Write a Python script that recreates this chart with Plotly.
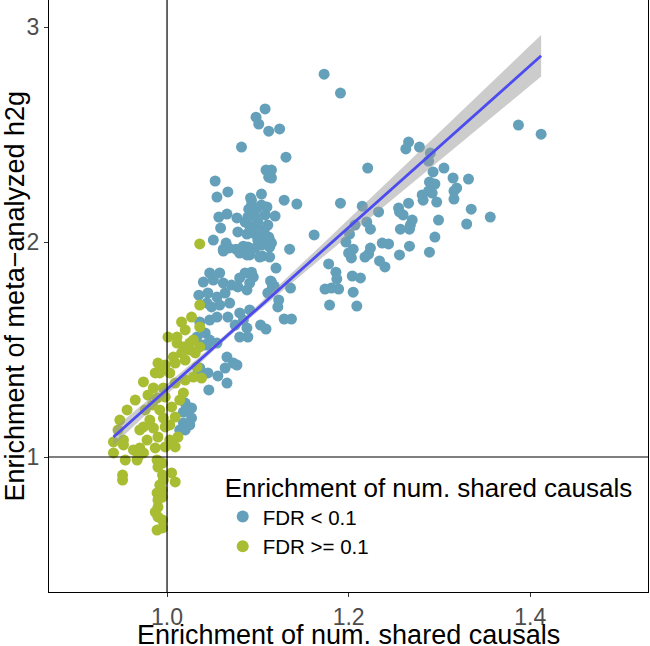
import numpy as np
import plotly.graph_objects as go

# ---------------- data ----------------
sig_x = [1.173, 1.191, 1.108, 1.098, 1.101, 1.112, 1.124, 1.082, 1.131, 1.109, 1.115, 1.112, 1.115,
         1.221, 1.266, 1.263, 1.278, 1.290, 1.288, 1.305, 1.293, 1.315, 1.332, 1.289, 1.295, 1.319,
         1.316, 1.288, 1.292, 1.281, 1.282, 1.297, 1.316, 1.387, 1.412, 1.104, 1.129, 1.143, 1.191,
         1.215, 1.233, 1.255, 1.256, 1.266, 1.260, 1.270, 1.268, 1.257, 1.267, 1.299, 1.335, 1.356,
         1.330, 1.295, 1.267, 1.256, 1.289, 1.119, 1.162, 1.135, 1.207, 1.201, 1.220, 1.224, 1.197,
         1.205, 1.200, 1.203, 1.224, 1.222, 1.218, 1.237, 1.244, 1.234, 1.240, 1.178, 1.186, 1.187,
         1.174, 1.189, 1.181, 1.204, 1.213, 1.205, 1.179, 1.209, 1.120, 1.114, 1.118, 1.136, 1.123,
         1.122, 1.129, 1.137, 1.103, 1.109, 1.053, 1.067, 1.055, 1.092, 1.110, 1.093, 1.099, 1.090,
         1.057, 1.066, 1.077, 1.059, 1.089, 1.097, 1.086, 1.100, 1.091, 1.098, 1.078, 1.088, 1.097,
         1.104, 1.112, 1.051, 1.065, 1.062, 1.068, 1.076, 1.084, 1.089, 1.097, 1.104, 1.113, 1.115,
         1.080, 1.088, 1.105, 1.093, 1.104, 1.108, 1.111, 1.107, 1.113, 1.100, 1.091,
         1.062, 1.091, 1.102, 1.113,
         1.047, 1.058, 1.040, 1.051, 1.062, 1.086, 1.093, 1.095, 1.080, 1.091, 1.071, 1.078, 1.088,
         1.115, 1.116, 1.111,
         1.035, 1.045, 1.055, 1.064, 1.069, 1.058, 1.049, 1.044, 1.080, 1.091, 1.084, 1.067, 1.055,
         1.047, 1.075, 1.088, 1.089, 1.080,
         1.042, 1.047, 1.040, 1.055, 1.036,
         1.066, 1.073, 1.064, 1.077,
         1.056, 1.066, 1.045, 1.034, 1.046, 1.036,
         1.023, 1.027, 1.018, 1.025, 1.014, 1.018, 1.020, 1.027, 1.020,
         1.033, 1.044]
sig_y = [2.781, 2.693, 2.619, 2.581, 2.549, 2.516, 2.526, 2.442, 2.395, 2.335, 2.335, 2.302, 2.298,
         2.344, 2.465, 2.433, 2.442, 2.414, 2.377, 2.344, 2.326, 2.298, 2.293, 2.279, 2.270, 2.251,
         2.237, 2.237, 2.228, 2.219, 2.195, 2.186, 2.200, 2.544, 2.502, 2.223, 2.195, 2.177, 2.181,
         2.167, 2.140, 2.158, 2.140, 2.181, 2.126, 2.102, 2.079, 2.060, 2.060, 2.102, 2.153, 2.116,
         2.084, 2.023, 1.981, 1.940, 1.953, 2.121, 2.033, 1.967, 2.079, 2.037, 2.093, 2.060, 2.000,
         1.967, 1.949, 1.926, 1.972, 1.944, 1.930, 1.995, 1.991, 1.912, 1.884, 1.898, 1.860, 1.828,
         1.781, 1.781, 1.786, 1.842, 1.833, 1.767, 1.707, 1.702, 1.879, 1.819, 1.795, 1.786, 1.730,
         1.698, 1.642, 1.642, 1.614, 1.595, 2.284, 2.233, 2.209, 2.205, 2.163, 2.172, 2.158, 2.153,
         2.116, 2.130, 2.112, 2.065, 2.116, 2.121, 2.093, 2.093, 2.074, 2.079, 2.047, 2.037, 2.037,
         2.028, 2.023, 2.009, 1.995, 1.967, 1.972, 1.967, 1.981, 1.977, 1.972, 1.986, 1.977, 1.995,
         1.949, 1.940, 1.935, 2.195, 2.172, 2.126, 2.079, 2.056, 2.009, 2.009, 1.963,
         1.958, 1.940, 1.930, 1.930,
         1.856, 1.856, 1.814, 1.823, 1.809, 1.856, 1.860, 1.837, 1.833, 1.809, 1.800, 1.791, 1.777,
         1.814, 1.791, 1.763,
         1.753, 1.763, 1.744, 1.763, 1.716, 1.707, 1.698, 1.716, 1.670, 1.684, 1.637, 1.651, 1.651,
         1.637, 1.614, 1.600, 1.558, 1.558,
         1.577, 1.544, 1.521, 1.530, 1.628,
         1.465, 1.437, 1.414, 1.428,
         1.377, 1.344, 1.391, 1.391, 1.312, 1.414,
         1.219, 1.181, 1.158, 1.149, 1.126, 1.209, 1.251, 1.228, 1.126,
         1.558, 1.521]

nonsig_x = [1.036, 1.016, 1.027, 1.036, 1.020, 1.001, 1.011, 1.011, 1.018, 1.025, 1.036, 1.031, 1.016,
            1.020, 1.009, 0.998, 0.990, 0.987, 0.974, 0.992, 1.003, 1.009, 0.996, 0.985, 0.979, 0.989,
            0.998, 0.984, 0.976, 0.992, 1.005, 1.009, 0.996, 0.981, 0.974, 0.985, 0.998, 0.978, 0.990,
            1.003, 1.012, 1.009, 0.998, 0.987, 0.970, 0.963, 0.974, 0.941, 0.952, 0.956, 0.948, 0.946,
            0.952, 0.941, 0.954, 0.967, 0.968, 1.029, 1.025, 1.007, 1.033, 1.029, 1.038, 1.018,
            0.951, 0.951,
            0.989, 0.995, 0.990, 0.995, 0.996, 1.005, 1.009, 0.992, 0.995, 0.989, 0.990, 0.995, 0.990,
            0.987, 0.990, 0.995, 0.989, 0.995,
            0.965, 0.970, 1.020, 1.014, 1.003, 1.036]
nonsig_y = [1.991, 1.628, 1.651, 1.605, 1.591, 1.558, 1.558, 1.530, 1.512, 1.530, 1.512, 1.484, 1.484,
            1.451, 1.437, 1.428, 1.437, 1.391, 1.349, 1.391, 1.391, 1.344, 1.321, 1.321, 1.288, 1.274,
            1.279, 1.242, 1.219, 1.219, 1.233, 1.186, 1.181, 1.172, 1.140, 1.135, 1.140, 1.079, 1.093,
            1.079, 1.093, 1.047, 1.047, 1.042, 1.042, 1.033, 1.019, 1.019, 1.056, 1.219, 1.172, 1.126,
            1.079, 1.070, 0.986, 0.986, 1.000, 1.544, 1.498, 1.465, 1.419, 1.372, 1.367, 1.298,
            0.916, 0.893,
            0.986, 0.972, 0.953, 0.916, 0.893, 0.926, 0.884, 0.870, 0.847, 0.833, 0.800, 0.814, 0.767,
            0.744, 0.721, 0.707, 0.660, 0.670,
            1.265, 1.126, 1.358, 1.265, 1.149, 1.707]

# linear fit (geom_smooth, method = lm)
fit_slope = 3.766
fit_intercept = -2.451
ci_center_x = 1.07
ci_min_halfwidth = 0.012
ci_spread = 0.281

x_ticks = [1.0, 1.2, 1.4]
x_tick_labels = ["1.0", "1.2", "1.4"]
y_ticks = [1, 2, 3]
y_tick_labels = ["1", "2", "3"]

x_title = "Enrichment of num. shared causals"
y_title = "Enrichment of meta\u2212analyzed h2g"
legend_title = "Enrichment of num. shared causals"
labels = ["FDR < 0.1", "FDR >= 0.1"]
colors = ["#64A0BA", "#A8BD32"]

# ---------------- figure ----------------
FONT = "Liberation Sans, Arial, Helvetica, sans-serif"
fig = go.Figure()

fig.add_trace(go.Scatter(x=sig_x, y=sig_y, mode="markers", name=labels[0],
                         marker=dict(color=colors[0], size=11, line=dict(width=0))))
fig.add_trace(go.Scatter(x=nonsig_x, y=nonsig_y, mode="markers", name=labels[1],
                         marker=dict(color=colors[1], size=11, line=dict(width=0))))

all_x = np.array(sig_x + nonsig_x)
xs = np.linspace(all_x.min(), all_x.max(), 100)
ys = fit_intercept + fit_slope * xs
hw = np.sqrt(ci_min_halfwidth ** 2 + (ci_spread * (xs - ci_center_x)) ** 2)

fig.add_trace(go.Scatter(x=xs, y=ys - hw, mode="lines", line=dict(width=0),
                         showlegend=False, hoverinfo="skip"))
fig.add_trace(go.Scatter(x=xs, y=ys + hw, mode="lines", line=dict(width=0),
                         fill="tonexty", fillcolor="rgba(153,153,153,0.5)",
                         showlegend=False, hoverinfo="skip"))
fig.add_trace(go.Scatter(x=xs, y=ys, mode="lines", line=dict(color="#4B4BF0", width=2.8),
                         showlegend=False, hoverinfo="skip"))

fig.add_shape(type="line", xref="x", yref="paper", x0=1, x1=1, y0=0, y1=1,
              line=dict(color="black", width=1.2), layer="above")
fig.add_shape(type="line", xref="paper", yref="y", x0=0, x1=1, y0=1, y1=1,
              line=dict(color="black", width=1.2), layer="above")

axis_common = dict(showgrid=False, zeroline=False, showline=True, linecolor="black",
                   linewidth=1.2, mirror=True, ticks="outside", ticklen=4,
                   tickcolor="#333333", tickwidth=1, automargin=False,
                   tickfont=dict(family=FONT, size=23, color="#4D4D4D"))

fig.add_annotation(text=x_title, xref="paper", yref="paper", x=0.5, y=-0.0725,
                   xanchor="center", yanchor="middle", showarrow=False,
                   font=dict(family=FONT, size=27, color="black"))
fig.add_annotation(text=y_title, xref="paper", yref="paper", x=-0.056, y=0.5,
                   xanchor="center", yanchor="middle", showarrow=False, textangle=-90,
                   font=dict(family=FONT, size=27, color="black"))

fig.update_layout(
    width=650, height=646,
    margin=dict(l=49, r=2, t=0, b=54),
    paper_bgcolor="white", plot_bgcolor="white",
    font=dict(family=FONT, color="black"),
    xaxis=dict(range=[0.870, 1.5297], tickvals=x_ticks, ticktext=x_tick_labels, **axis_common),
    yaxis=dict(range=[0.372, 3.126], tickvals=y_ticks, ticktext=y_tick_labels, **axis_common),
    legend=dict(x=0.29, y=0.218, xanchor="left", yanchor="top",
                bgcolor="rgba(255,255,255,0)", borderwidth=0, traceorder="normal",
                title=dict(text=legend_title,
                           font=dict(family=FONT, size=26, color="black")),
                font=dict(family=FONT, size=20.5, color="black"),
                tracegroupgap=0, itemsizing="constant"),
    showlegend=True,
)

fig.write_html("out.html", config={"displayModeBar": False},
               post_script="document.body.style.margin='0';document.body.style.padding='0';"
                           "document.body.style.overflow='hidden';")
